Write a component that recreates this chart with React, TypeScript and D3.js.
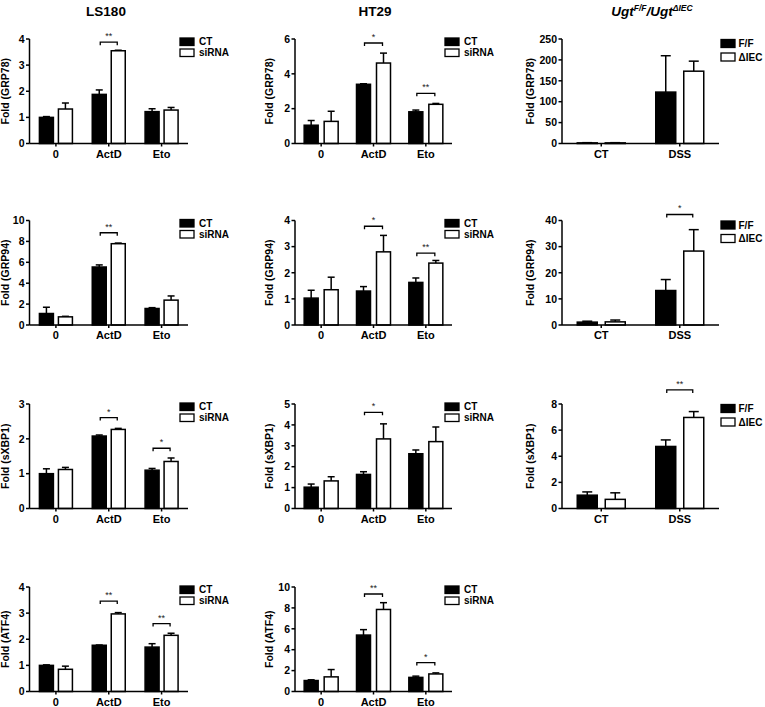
import React from "react";
import * as d3 from "d3";

// ---------- data ----------
const cellCategories = ["0", "ActD", "Eto"];
const cellSeries = ["CT", "siRNA"];
const mouseCategories = ["CT", "DSS"];
const mouseSeries = ["F/F", "ΔIEC"];
const markerLabels = ["GRP78", "GRP94", "sXBP1", "ATF4"];

// [category][series]
const ls180Grp78Mean = [[1.0, 1.32], [1.88, 3.55], [1.22, 1.28]];
const ls180Grp78Sem = [[0.03, 0.23], [0.17, 0.02], [0.11, 0.1]];
const ls180Grp78Sig = [{ category: "ActD", label: "**", level: 3.88 }];

const ht29Grp78Mean = [[1.05, 1.27], [3.4, 4.62], [1.82, 2.25]];
const ht29Grp78Sem = [[0.27, 0.58], [0.03, 0.57], [0.1, 0.05]];
const ht29Grp78Sig = [
  { category: "ActD", label: "*", level: 5.77 },
  { category: "Eto", label: "**", level: 2.88 },
];

const ugtGrp78Mean = [[1.5, 1.5], [123, 173]];
const ugtGrp78Sem = [[0.5, 0.5], [87, 24]];
const ugtGrp78Sig: { category: string; label: string; level: number }[] = [];

const ls180Grp94Mean = [[1.1, 0.78], [5.55, 7.78], [1.58, 2.38]];
const ls180Grp94Sem = [[0.6, 0.05], [0.2, 0.06], [0.08, 0.4]];
const ls180Grp94Sig = [{ category: "ActD", label: "**", level: 8.83 }];

const ht29Grp94Mean = [[1.03, 1.35], [1.3, 2.8], [1.63, 2.37]];
const ht29Grp94Sem = [[0.3, 0.48], [0.17, 0.63], [0.17, 0.1]];
const ht29Grp94Sig = [
  { category: "ActD", label: "*", level: 3.78 },
  { category: "Eto", label: "**", level: 2.75 },
];

const ugtGrp94Mean = [[1.1, 1.2], [13.2, 28.3]];
const ugtGrp94Sem = [[0.35, 0.7], [4.2, 8.2]];
const ugtGrp94Sig = [{ category: "DSS", label: "*", level: 42.3 }];

const ls180Xbp1Mean = [[1.0, 1.12], [2.08, 2.27], [1.1, 1.35]];
const ls180Xbp1Sem = [[0.14, 0.06], [0.03, 0.03], [0.05, 0.1]];
const ls180Xbp1Sig = [
  { category: "ActD", label: "*", level: 2.61 },
  { category: "Eto", label: "*", level: 1.73 },
];

const ht29Xbp1Mean = [[1.02, 1.32], [1.63, 3.33], [2.62, 3.2]];
const ht29Xbp1Sem = [[0.15, 0.2], [0.13, 0.72], [0.18, 0.7]];
const ht29Xbp1Sig = [{ category: "ActD", label: "*", level: 4.6 }];

const ugtXbp1Mean = [[1.02, 0.7], [4.75, 6.97]];
const ugtXbp1Sem = [[0.25, 0.5], [0.5, 0.45]];
const ugtXbp1Sig = [{ category: "DSS", label: "**", level: 9.08 }];

const ls180Atf4Mean = [[1.0, 0.85], [1.77, 2.97], [1.7, 2.15]];
const ls180Atf4Sem = [[0.02, 0.12], [0.01, 0.05], [0.13, 0.08]];
const ls180Atf4Sig = [
  { category: "ActD", label: "**", level: 3.46 },
  { category: "Eto", label: "**", level: 2.6 },
];

const ht29Atf4Mean = [[1.05, 1.4], [5.4, 7.85], [1.35, 1.68]];
const ht29Atf4Sem = [[0.07, 0.7], [0.52, 0.65], [0.12, 0.1]];
const ht29Atf4Sig = [
  { category: "ActD", label: "**", level: 9.33 },
  { category: "Eto", label: "*", level: 2.77 },
];

// y-axis maxima and tick steps
const yMaxes = [[4, 6, 250], [10, 4, 40], [3, 5, 8], [4, 10]];
const ySteps = [[1, 2, 50], [2, 1, 10], [1, 1, 2], [1, 2]];

// ---------- layout ----------
const FONT = "'Liberation Sans', Arial, Helvetica, sans-serif";
const colAxisX = [29.5, 295, 562];
const colAxisEnd = [188, 452, 719];
const colBarW = [14, 14, 20];
const colBarGap = [5, 6, 8];
const colLegendX = [180, 445, 721];
const colLegendTextGap = [5, 5, 3.5];
const colLabelX = [9, 273, 534];
const colTitleX = [106, 375, 652];
const rowTop = [39, 220.5, 404, 587];
const plotH = 104.5;

type Sig = { category: string; label: string; level: number };
type PanelSpec = {
  col: number;
  row: number;
  mean: number[][];
  sem: number[][];
  sig: Sig[];
};

const panels: PanelSpec[] = [
  { col: 0, row: 0, mean: ls180Grp78Mean, sem: ls180Grp78Sem, sig: ls180Grp78Sig },
  { col: 1, row: 0, mean: ht29Grp78Mean, sem: ht29Grp78Sem, sig: ht29Grp78Sig },
  { col: 2, row: 0, mean: ugtGrp78Mean, sem: ugtGrp78Sem, sig: ugtGrp78Sig },
  { col: 0, row: 1, mean: ls180Grp94Mean, sem: ls180Grp94Sem, sig: ls180Grp94Sig },
  { col: 1, row: 1, mean: ht29Grp94Mean, sem: ht29Grp94Sem, sig: ht29Grp94Sig },
  { col: 2, row: 1, mean: ugtGrp94Mean, sem: ugtGrp94Sem, sig: ugtGrp94Sig },
  { col: 0, row: 2, mean: ls180Xbp1Mean, sem: ls180Xbp1Sem, sig: ls180Xbp1Sig },
  { col: 1, row: 2, mean: ht29Xbp1Mean, sem: ht29Xbp1Sem, sig: ht29Xbp1Sig },
  { col: 2, row: 2, mean: ugtXbp1Mean, sem: ugtXbp1Sem, sig: ugtXbp1Sig },
  { col: 0, row: 3, mean: ls180Atf4Mean, sem: ls180Atf4Sem, sig: ls180Atf4Sig },
  { col: 1, row: 3, mean: ht29Atf4Mean, sem: ht29Atf4Sem, sig: ht29Atf4Sig },
];

function Panel({ spec }: { spec: PanelSpec }) {
  const { col, row, mean, sem, sig } = spec;
  const isMouse = col === 2;
  const cats = isMouse ? mouseCategories : cellCategories;
  const series = isMouse ? mouseSeries : cellSeries;
  const yMax = yMaxes[row][col];
  const yStep = ySteps[row][col];
  const top = rowTop[row];
  const bottom = top + plotH;
  const ax = colAxisX[col];
  const axEnd = colAxisEnd[col];
  const barW = colBarW[col];
  const gap = colBarGap[col];

  const y = d3.scaleLinear().domain([0, yMax]).range([bottom, top]);
  const x = d3.scaleBand<string>().domain(cats).range([ax, axEnd]).padding(0);
  const half = barW + gap / 2;
  const sub = d3
    .scaleBand<string>()
    .domain(series)
    .range([-half, half])
    .paddingInner(gap / (barW + gap))
    .paddingOuter(0);
  const ticks = d3.range(0, yMax + yStep / 2, yStep);
  const capW = barW * 0.5;
  const barCenter = (c: string, s: string) =>
    (x(c) as number) + x.bandwidth() / 2 + (sub(s) as number) + barW / 2;

  const lx = colLegendX[col];
  const legendRects = isMouse ? [top + 0.5, top + 14] : [top - 1, top + 10];
  const legendH = isMouse ? 8 : 7.5;
  const legendW = 14;

  return (
    <g>
      {/* bars */}
      {cats.map((c, ci) =>
        series.map((s, si) => {
          const cx = barCenter(c, s);
          const v = mean[ci][si];
          const e = sem[ci][si];
          const x0 = cx - barW / 2;
          return (
            <g key={c + s}>
              <line x1={cx} x2={cx} y1={y(v)} y2={y(v + e)} stroke="#000" strokeWidth={1.5} />
              <line
                x1={cx - capW / 2}
                x2={cx + capW / 2}
                y1={y(v + e)}
                y2={y(v + e)}
                stroke="#000"
                strokeWidth={1.5}
              />
              <rect
                x={x0}
                y={y(v)}
                width={barW}
                height={y(0) - y(v)}
                fill={si === 0 ? "#000" : "#fff"}
                stroke="#000"
                strokeWidth={1.5}
              />
            </g>
          );
        })
      )}
      {/* y axis */}
      <line x1={ax} x2={ax} y1={top} y2={bottom} stroke="#000" strokeWidth={1.5} />
      {ticks.map((t) => (
        <g key={t}>
          <line x1={ax - 3.5} x2={ax} y1={y(t)} y2={y(t)} stroke="#000" strokeWidth={1.5} />
          <text
            x={ax - 5}
            y={y(t)}
            dy="0.36em"
            textAnchor="end"
            fontFamily={FONT}
            fontWeight="bold"
            fontSize={10.5}
          >
            {t}
          </text>
        </g>
      ))}
      {/* x axis */}
      <line x1={ax} x2={axEnd} y1={bottom} y2={bottom} stroke="#000" strokeWidth={1.5} />
      {cats.map((c) => {
        const cx = (x(c) as number) + x.bandwidth() / 2;
        return (
          <g key={c}>
            <line x1={cx} x2={cx} y1={bottom} y2={bottom + 3} stroke="#000" strokeWidth={1.5} />
            <text
              x={cx}
              y={bottom + 14}
              textAnchor="middle"
              fontFamily={FONT}
              fontWeight="bold"
              fontSize={11}
            >
              {c}
            </text>
          </g>
        );
      })}
      {/* y label */}
      <text
        transform={`translate(${colLabelX[col]},${(top + bottom) / 2}) rotate(-90)`}
        textAnchor="middle"
        fontFamily={FONT}
        fontWeight="bold"
        fontSize={10.5}
      >
        {`Fold (${markerLabels[row]})`}
      </text>
      {/* significance */}
      {sig.map((sg) => {
        const x1 = barCenter(sg.category, series[0]) + 1;
        const x2 = barCenter(sg.category, series[1]) - 1;
        const yy = y(sg.level);
        return (
          <g key={sg.category}>
            <path
              d={`M${x1},${yy + 3}V${yy}H${x2}V${yy + 3}`}
              fill="none"
              stroke="#000"
              strokeWidth={1.3}
            />
            <text
              x={(x1 + x2) / 2}
              y={yy - 3}
              textAnchor="middle"
              fontFamily={FONT}
              fontSize={9}
              fill="#222"
            >
              {sg.label}
            </text>
          </g>
        );
      })}
      {/* legend */}
      {series.map((s, si) => (
        <g key={s}>
          <rect
            x={lx}
            y={legendRects[si]}
            width={legendW}
            height={legendH}
            fill={si === 0 ? "#000" : "#fff"}
            stroke="#000"
            strokeWidth={1.3}
          />
          <text
            x={lx + legendW + colLegendTextGap[col]}
            y={legendRects[si] + legendH / 2}
            dy="0.36em"
            fontFamily={FONT}
            fontWeight="bold"
            fontSize={10}
          >
            {s}
          </text>
        </g>
      ))}
    </g>
  );
}

export default function App() {
  const titleY = 16;
  return (
    <svg
      width={765}
      height={707}
      style={{ position: "absolute", left: 0, top: 0, background: "#fff" }}
    >
      <rect x={0} y={0} width={765} height={707} fill="#fff" />
      <text
        x={colTitleX[0]}
        y={titleY}
        textAnchor="middle"
        fontFamily={FONT}
        fontWeight="bold"
        fontSize={13.5}
      >
        LS180
      </text>
      <text
        x={colTitleX[1]}
        y={titleY}
        textAnchor="middle"
        fontFamily={FONT}
        fontWeight="bold"
        fontSize={13.5}
      >
        HT29
      </text>
      <text
        x={colTitleX[2]}
        y={titleY}
        textAnchor="middle"
        fontFamily={FONT}
        fontWeight="bold"
        fontStyle="italic"
        fontSize={13.5}
      >
        <tspan>Ugt</tspan>
        <tspan dy={-5} fontSize={8.5}>F/F</tspan>
        <tspan dy={5}>/Ugt</tspan>
        <tspan dy={-5} fontSize={8.5}>ΔIEC</tspan>
      </text>
      {panels.map((p) => (
        <Panel key={`${p.col}-${p.row}`} spec={p} />
      ))}
    </svg>
  );
}
